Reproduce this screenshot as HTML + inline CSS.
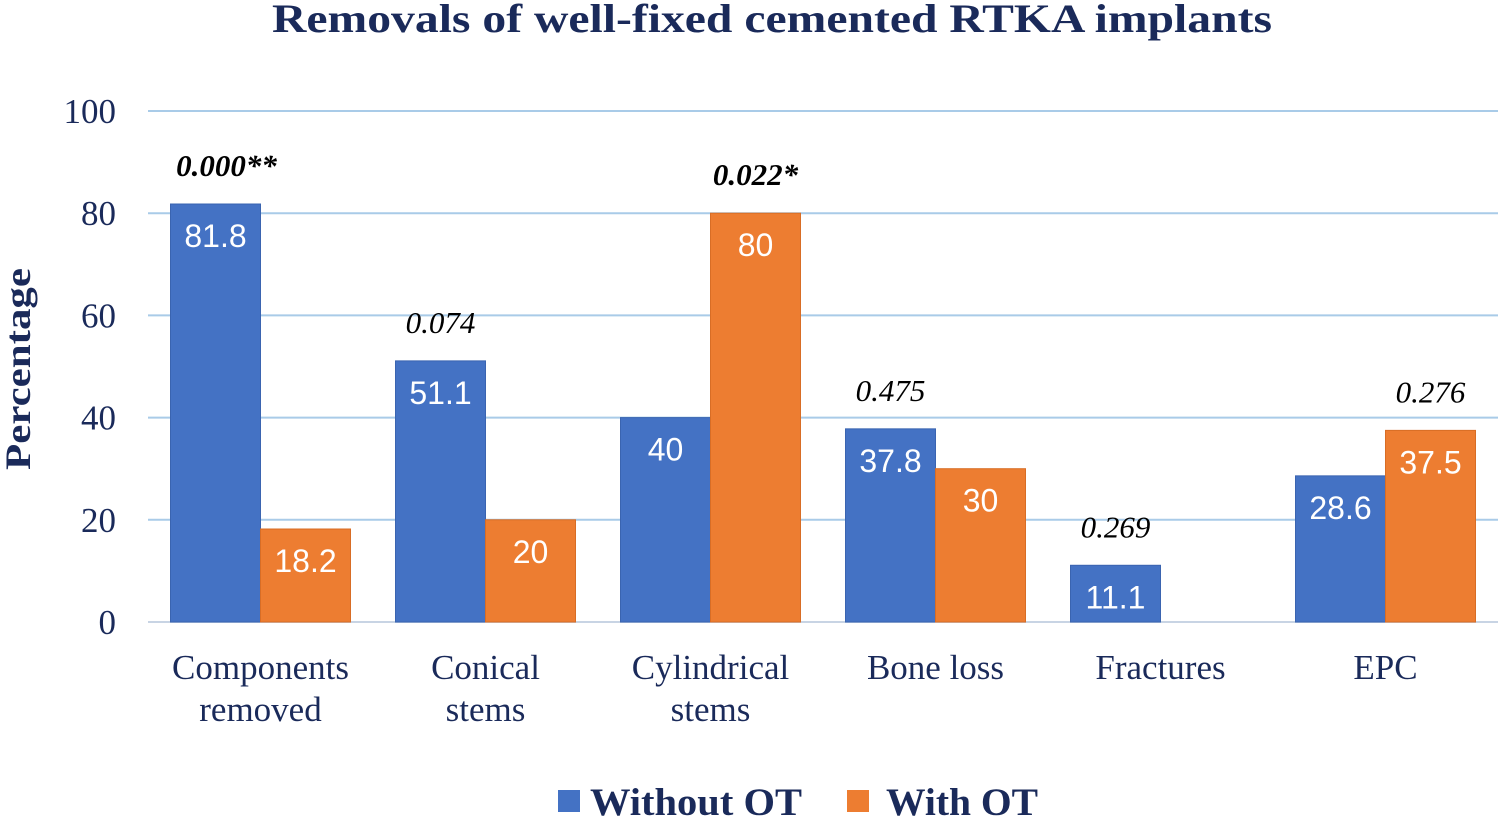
<!DOCTYPE html>
<html><head><meta charset="utf-8"><style>
body{margin:0;background:#fff;}
svg{display:block}
.serif{font-family:"Liberation Serif",serif;}
.sans{font-family:"Liberation Sans",sans-serif;}
</style></head><body>
<svg id="chart" width="1498" height="816">
<text x="772" y="32" text-anchor="middle" class="serif" font-weight="bold" font-size="40" textLength="1000" lengthAdjust="spacingAndGlyphs" fill="#1a2a5a">Removals of well-fixed cemented RTKA implants</text>
<text transform="translate(30,369) rotate(-90)" text-anchor="middle" class="serif" font-weight="bold" font-size="36" textLength="202" lengthAdjust="spacingAndGlyphs" fill="#1a2a5a">Percentage</text>
<g id="grid"></g><g id="bars"></g><g id="labels"></g>
<g>
<rect x="558" y="790" width="22" height="22" fill="#4472C4"/>
<text x="590" y="815" class="serif" font-weight="bold" font-size="39" textLength="212" lengthAdjust="spacingAndGlyphs" fill="#1a2a5a">Without OT</text>
<rect x="847" y="790" width="22" height="22" fill="#ED7D31"/>
<text x="886" y="815" class="serif" font-weight="bold" font-size="39" textLength="152" lengthAdjust="spacingAndGlyphs" fill="#1a2a5a">With OT</text>
</g>
</svg>
<script>
const categories=[["Components","removed"],["Conical","stems"],["Cylindrical","stems"],["Bone loss"],["Fractures"],["EPC"]];
const withoutOT=[81.8,51.1,40,37.8,11.1,28.6];
const withOT=[18.2,20,80,30,0,37.5];
const pValues=["0.000**","0.074","0.022*","0.475","0.269","0.276"];
const pBold=[true,false,true,false,false,false];
const yTicks=[0,20,40,60,80,100];
const NS="http://www.w3.org/2000/svg";
const x0=148,x1=1498,yBase=622,yTop=111;
const y=v=>yBase-(v/100)*(yBase-yTop);
const band=(x1-x0)/categories.length;
const cx=i=>x0+band*(i+0.5);
const bw=90;
function mk(tag,attrs,parent,text){const e=document.createElementNS(NS,tag);for(const k in attrs)e.setAttribute(k,attrs[k]);if(text!==undefined)e.textContent=text;parent.appendChild(e);return e;}
const grid=document.getElementById('grid'),bars=document.getElementById('bars'),labels=document.getElementById('labels');
yTicks.forEach(t=>{
 const l=mk('line',{x1:x0,x2:x1,y1:y(t),y2:y(t),stroke:t===0?'#c8d4e4':'#a9cbe8','stroke-width':2},grid);
 
 
 const tx=mk('text',{x:116,y:y(t)+12,'text-anchor':'end',class:'serif','font-size':35,fill:'#1a2a5a'},grid,String(t));
 
 
});
categories.forEach((c,i)=>{
 const c0=cx(i);
 [[withoutOT[i],'#4472C4',c0-bw,'without-ot'],[withOT[i],'#ED7D31',c0,'with-ot']].forEach(([v,col,bx,s])=>{
  if(v<=0)return;
  const r=mk('rect',{x:bx,y:y(v),width:bw,height:yBase-y(v),fill:col,stroke:col==='#4472C4'?'#3a64b0':'#d86d25','stroke-width':1},bars);
  
  
  const t=mk('text',{x:bx+bw/2,y:y(v)+43,'text-anchor':'middle',class:'sans','font-size':32,fill:'#fff'},labels,String(v));
  
  
 });
 c.forEach((line,k)=>{
  const t=mk('text',{x:c0,y:679+k*42,'text-anchor':'middle',class:'serif','font-size':35,fill:'#1a2a5a'},labels,line);
  
  
 });
 const top=Math.max(withoutOT[i],withOT[i]);
 const px=withoutOT[i]>=withOT[i]?c0-bw/2:c0+bw/2;
 const p=mk('text',{x:px+(pBold[i]&&i===0?11:0),y:y(top)-28,'text-anchor':'middle',class:'serif','font-style':'italic','font-weight':pBold[i]?'bold':'normal','font-size':31,fill:'#000'},labels,pValues[i]);
 
 
});
</script>
</body></html>
